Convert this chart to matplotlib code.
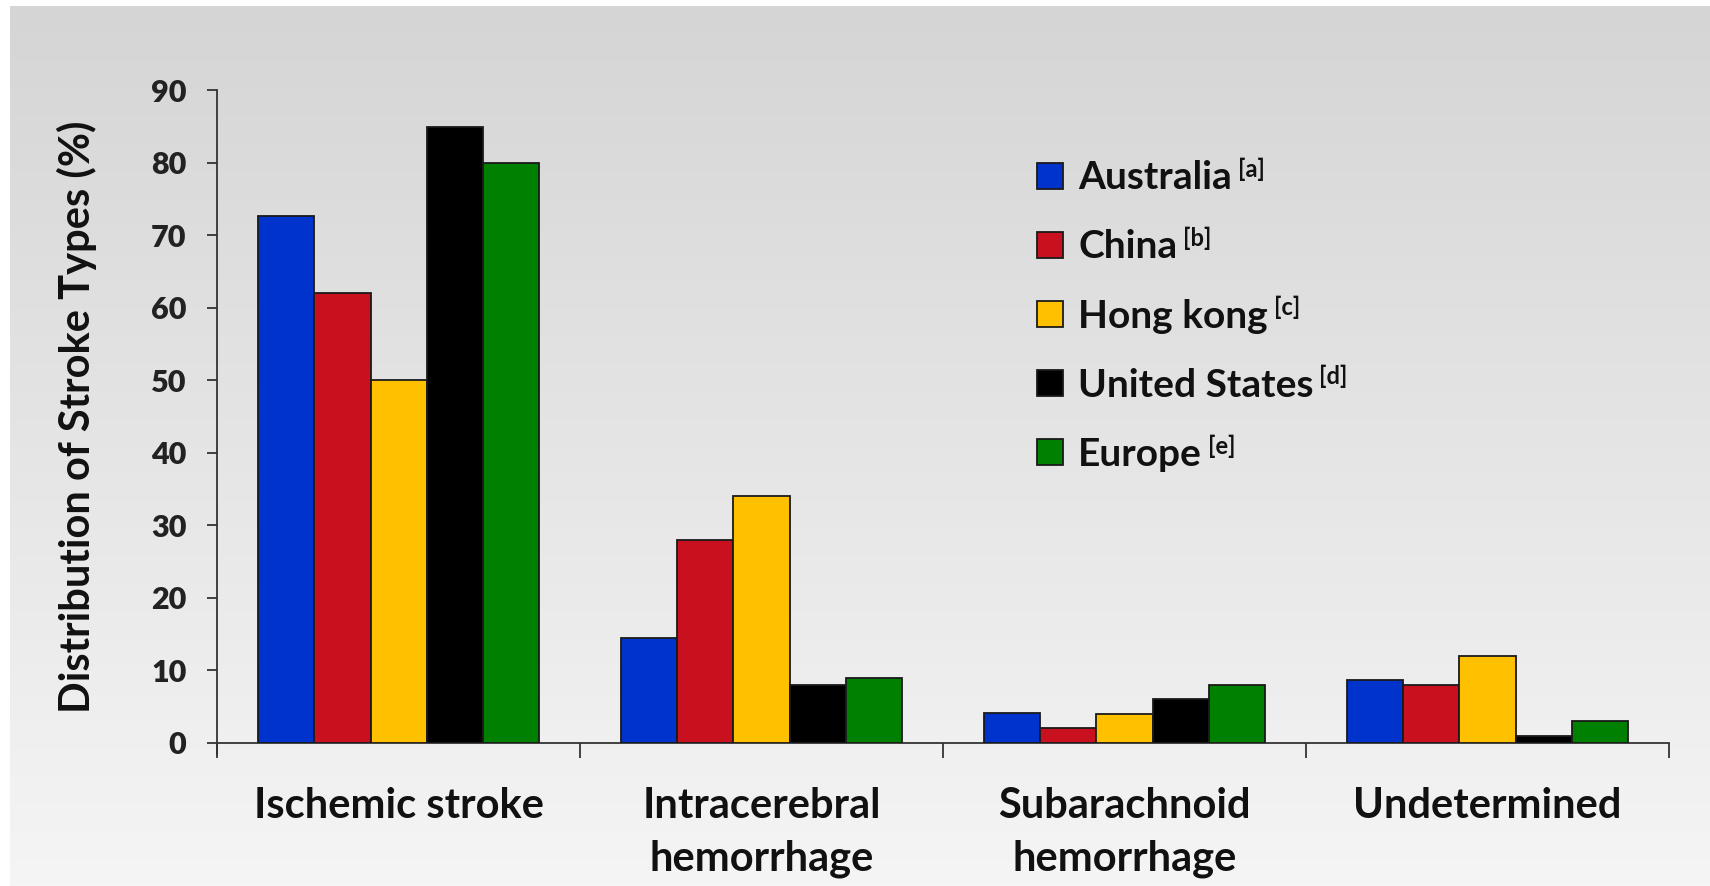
import numpy as np
import matplotlib
matplotlib.use("Agg")
import matplotlib.pyplot as plt
from matplotlib.ticker import FixedLocator
from matplotlib.colors import LinearSegmentedColormap

categories = ["Ischemic stroke", "Intracerebral\nhemorrhage", "Subarachnoid\nhemorrhage", "Undetermined"]
series_names = ["Australia", "China", "Hong kong", "United States", "Europe"]
series_refs = ["[a]", "[b]", "[c]", "[d]", "[e]"]
australia = [72.7, 14.5, 4.2, 8.7]
china = [62, 28, 2, 8]
hong_kong = [50, 34, 4, 12]
united_states = [85, 8, 6, 1]
europe = [80, 9, 8, 3]
yticks = [0, 10, 20, 30, 40, 50, 60, 70, 80, 90]

series_values = [australia, china, hong_kong, united_states, europe]
colors = ["#0033cc", "#c8101e", "#ffc000", "#000000", "#008000"]

plt.rcParams['font.family'] = ['Lato', 'DejaVu Sans']
plt.rcParams['font.weight'] = 'bold'

fig = plt.figure(figsize=(17.1, 8.86), dpi=100)
fig.patch.set_facecolor('white')

# background gradient
bg = fig.add_axes([0.006, 0.0, 0.994, 0.993], zorder=-10)
grad = np.linspace(0, 1, 256).reshape(-1, 1)
cmap = LinearSegmentedColormap.from_list("bg", ["#f5f5f5", "#d5d5d5"])
bg.imshow(grad, aspect='auto', cmap=cmap, origin='lower', extent=[0, 1, 0, 1])
bg.set_axis_off()

ax = fig.add_axes([0.127, 0.1614, 0.849, 0.7366])
ax.patch.set_alpha(0)

n = len(series_values)
group_w = 0.775
bw = group_w / n
x = np.arange(len(categories))
for i, (vals, col, name) in enumerate(zip(series_values, colors, series_names)):
    ax.bar(x - group_w / 2 + bw * (i + 0.5), vals, width=bw, color=col,
           edgecolor='#1a1a1a', linewidth=1.3, label=name, zorder=3)

ax.set_xlim(-0.5, len(categories) - 0.5)
ax.set_ylim(0, 90)
ax.set_yticks(yticks)
ax.set_yticklabels([str(t) for t in yticks], fontsize=22, fontweight='heavy', color='#222222')
ax.set_xticks(x)
ax.set_xticklabels(categories, fontsize=30, fontweight='bold', color='#111111', linespacing=1.45)
ax.tick_params(axis='x', which='major', length=0, pad=32)
ax.xaxis.set_minor_locator(FixedLocator(np.arange(-0.5, len(categories), 1.0)))
ax.tick_params(axis='x', which='minor', length=11, width=1.3, direction='out', color='#333333')
ax.tick_params(axis='y', length=7, width=1.3, direction='out', color='#333333', pad=15)
for s in ['top', 'right']:
    ax.spines[s].set_visible(False)
for s in ['left', 'bottom']:
    ax.spines[s].set_linewidth(1.3)
    ax.spines[s].set_color('#333333')
ax.spines['left'].set_bounds(-1.5, 90)

ax.set_ylabel("Distribution of Stroke Types (%)", fontsize=30, fontweight='bold',
              color='#111111', labelpad=39)

leg = ax.legend(loc='upper left', bbox_to_anchor=(0.565, 0.893), frameon=False,
                fontsize=28, handlelength=0.65, handleheight=0.65, handletextpad=0.4,
                labelspacing=0.88, borderaxespad=0, borderpad=0)
for txt, ref in zip(leg.get_texts(), series_refs):
    txt.set_fontweight('bold')
    txt.set_color('#111111')
    ax.annotate(ref, xy=(1, 1), xycoords=txt, xytext=(4, 2), textcoords='offset points',
                ha='left', va='top', fontsize=17, fontweight='bold', color='#111111',
                zorder=10)

fig.savefig("out.png", dpi=100)
